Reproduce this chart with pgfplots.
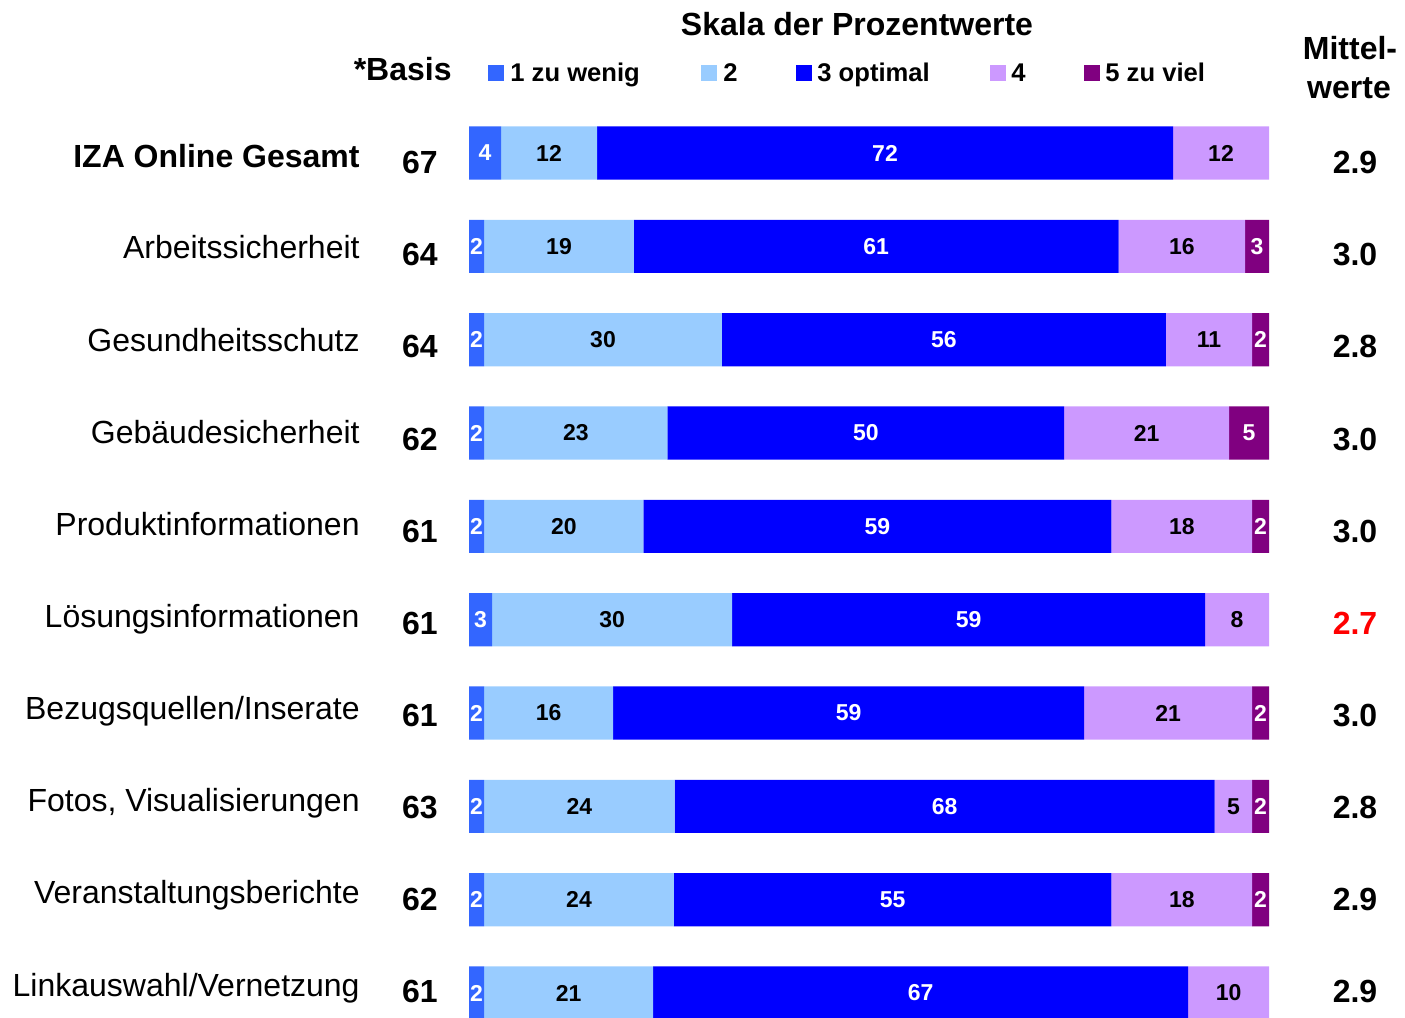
\documentclass[border=0pt]{standalone}
\usepackage{pgfplots}
\pgfplotsset{compat=1.18}
\usepackage{pgfplotstable}
\usepackage{fontspec}
\setmainfont{Liberation Sans}
\definecolor{c1}{HTML}{3366FF}
\definecolor{c2}{HTML}{99CCFF}
\definecolor{c3}{HTML}{0000FF}
\definecolor{c4}{HTML}{CC99FF}
\definecolor{c5}{HTML}{800080}
\definecolor{redval}{HTML}{FF0000}

% y = row (1 = IZA Online Gesamt ... 10 = Linkauswahl/Vernetzung)
% v1..v5 = shares in percent (1 zu wenig ... 5 zu viel), l1..l5 = printed labels
\pgfplotstableread{
y v1 v2 v3 v4 v5 l1 l2 l3 l4 l5
1 4.0 12.0 72.0 12.0 0.0 4 12 72 12 0
2 1.9 18.7 60.6 15.8 3.0 2 19 61 16 3
3 1.9 29.7 55.5 10.8 2.1 2 30 56 11 2
4 1.9 22.9 49.6 20.6 5.0 2 23 50 21 5
5 1.9 19.9 58.5 17.6 2.1 2 20 59 18 2
6 2.9 30.0 59.1 8.0 0.0 3 30 59 8 0
7 1.9 16.1 58.9 21.0 2.1 2 16 59 21 2
8 1.9 23.8 67.5 4.7 2.1 2 24 68 5 2
9 1.9 23.7 54.7 17.6 2.1 2 24 55 18 2
10 1.9 21.1 66.9 10.1 0.0 2 21 67 10 0
}\data
% segment centres for the labels
\pgfplotstablecreatecol[expr={\thisrow{v1}/2}]{m1}\data
\pgfplotstablecreatecol[expr={\thisrow{v1}+\thisrow{v2}/2}]{m2}\data
\pgfplotstablecreatecol[expr={\thisrow{v1}+\thisrow{v2}+\thisrow{v3}/2}]{m3}\data
\pgfplotstablecreatecol[expr={\thisrow{v1}+\thisrow{v2}+\thisrow{v3}+\thisrow{v4}/2}]{m4}\data
\pgfplotstablecreatecol[expr={\thisrow{v1}+\thisrow{v2}+\thisrow{v3}+\thisrow{v4}+\thisrow{v5}/2}]{m5}\data

\pgfplotsset{
  frame/.style={
    at={(0,0)}, anchor=north west,
    scale only axis, width=702.5pt, height=509pt,
    xmin=-58.625, xmax=117, ymin=-0.6393, ymax=10.2679, y dir=reverse,
    hide axis,
  },
  lbl/.style={only marks, mark=none, point meta=explicit symbolic,
    nodes near coords,
    every node near coord/.append style={anchor=center, inner sep=0pt,
      font=\fontsize{11.5}{13}\selectfont\bfseries, text=#1}},
}

\begin{document}
\begin{tikzpicture}
\begin{axis}[frame, xbar stacked, bar width=0.57]
\addplot[fill=c1, draw=none] table[x=v1,y=y]{\data};
\addplot[fill=c2, draw=none] table[x=v2,y=y]{\data};
\addplot[fill=c3, draw=none] table[x=v3,y=y]{\data};
\addplot[fill=c4, draw=none] table[x=v4,y=y]{\data};
\addplot[fill=c5, draw=none] table[x=v5,y=y]{\data};
\end{axis}
\begin{axis}[frame]
\addplot[lbl=white] table[x=m1,y=y,meta=l1]{\data};
\addplot[lbl=black] table[x=m2,y=y,meta=l2]{\data};
\addplot[lbl=white] table[x=m3,y=y,meta=l3]{\data};
\addplot[lbl=black] table[x=m4,y=y,meta=l4]{\data};
\addplot[lbl=white, y filter/.expression={\thisrow{v5}>0 ? y : nan}] table[x=m5,y=y,meta=l5]{\data};
\end{axis}

\begin{scope}[x=0.5pt, y=-0.5pt]
\tikzset{
  cat/.style={anchor=base east, inner sep=0pt, font=\fontsize{16}{19}\selectfont},
  num/.style={anchor=base, inner sep=0pt, font=\fontsize{16}{19}\selectfont\bfseries},
  leg/.style={anchor=base west, inner sep=0pt, font=\fontsize{12.8}{15}\selectfont\bfseries},
}
% header
\node[anchor=base, inner sep=0pt, font=\fontsize{16}{19}\selectfont\bfseries] at (857,35) {Skala der Prozentwerte};
\node[anchor=base east, inner sep=0pt, font=\fontsize{16}{19}\selectfont\bfseries] at (452,80) {*Basis};
\node[anchor=base, inner sep=0pt, font=\fontsize{16}{19}\selectfont\bfseries] at (1350,59) {Mittel-};
\node[anchor=base, inner sep=0pt, font=\fontsize{16}{19}\selectfont\bfseries] at (1349,98) {werte};
% legend
\fill[c1] (488,65) rectangle (504,81); \node[leg] at (510,81) {1 zu wenig};
\fill[c2] (701,65) rectangle (717,81); \node[leg] at (723,81) {2};
\fill[c3] (796,65) rectangle (812,81); \node[leg] at (817,81) {3 optimal};
\fill[c4] (990,65) rectangle (1006,81); \node[leg] at (1011,81) {4};
\fill[c5] (1084,65) rectangle (1100,81); \node[leg] at (1105,81) {5 zu viel};
% categories
\node[cat, font=\fontsize{16}{19}\selectfont\bfseries] at (360,167) {IZA Online Gesamt};
\node[cat] at (360,258) {Arbeitssicherheit};
\node[cat] at (360,351) {Gesundheitsschutz};
\node[cat] at (360,443) {Gebäudesicherheit};
\node[cat] at (360,535) {Produktinformationen};
\node[cat] at (360,627) {Lösungsinformationen};
\node[cat] at (360,719) {Bezugsquellen/Inserate};
\node[cat] at (360,811) {Fotos, Visualisierungen};
\node[cat] at (360,903) {Veranstaltungsberichte};
\node[cat] at (360,996) {Linkauswahl/Vernetzung};
% basis
\node[num] at (420,173) {67};
\node[num] at (420,265) {64};
\node[num] at (420,357) {64};
\node[num] at (420,450) {62};
\node[num] at (420,542) {61};
\node[num] at (420,634) {61};
\node[num] at (420,726) {61};
\node[num] at (420,818) {63};
\node[num] at (420,910) {62};
\node[num] at (420,1002) {61};
% means
\node[num] at (1355,173) {2.9};
\node[num] at (1355,265) {3.0};
\node[num] at (1355,357) {2.8};
\node[num] at (1355,450) {3.0};
\node[num] at (1355,542) {3.0};
\node[num, text=redval] at (1355,634) {2.7};
\node[num] at (1355,726) {3.0};
\node[num] at (1355,818) {2.8};
\node[num] at (1355,910) {2.9};
\node[num] at (1355,1002) {2.9};
\end{scope}
\pgfresetboundingbox
\useasboundingbox (0,0) rectangle (702.5pt,-509pt);
\end{tikzpicture}
\end{document}
